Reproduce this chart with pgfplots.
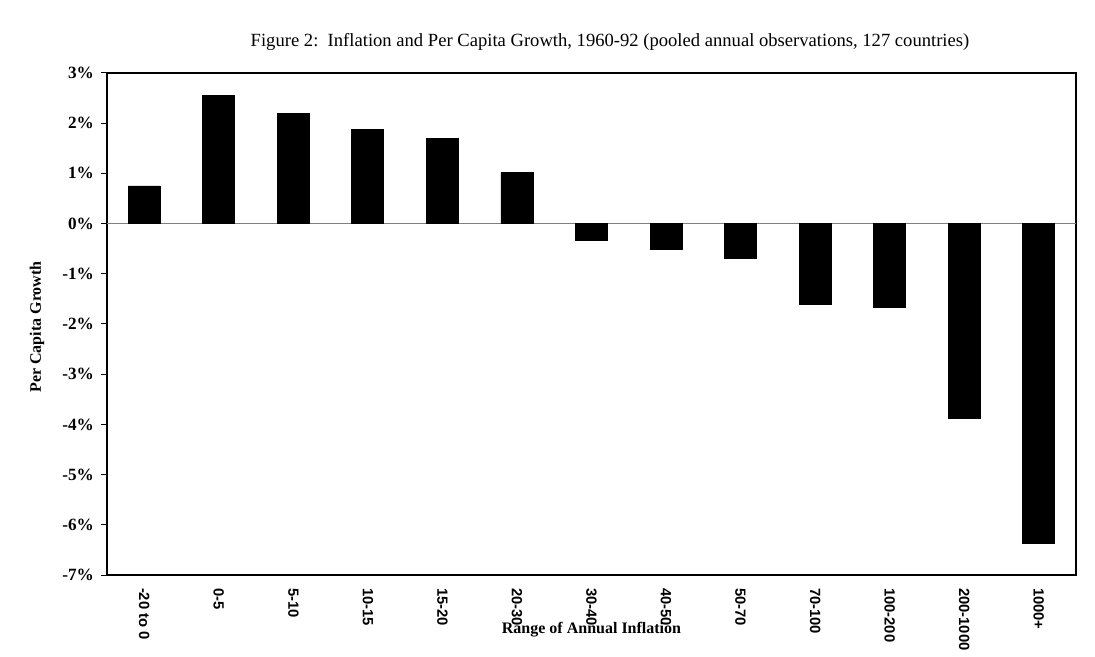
\documentclass[border=0pt]{standalone}
\usepackage{pgfplots}
\pgfplotsset{compat=1.18}
\usepackage{fontspec}
\setmainfont{Liberation Serif}
\newfontfamily\sansf{Liberation Sans}
\begin{document}
\begin{tikzpicture}
\path[use as bounding box] (-53.5pt,-41pt) rectangle (494pt,287.5pt);
\begin{axis}[
  at={(0,0)}, anchor=south west,
  scale only axis,
  width=484.5pt, height=251pt,
  xmin=-0.5, xmax=12.5,
  ymin=-7, ymax=3,
  ytick={-7,-6,-5,-4,-3,-2,-1,0,1,2,3},
  yticklabels={-7\%,-6\%,-5\%,-4\%,-3\%,-2\%,-1\%,0\%,1\%,2\%,3\%},
  xtick={0,...,12},
  xticklabels={-20 to 0,0-5,5-10,10-15,15-20,20-30,30-40,40-50,50-70,70-100,100-200,200-1000,1000+},
  x tick label style={font=\sansf\bfseries\fontsize{7.4}{8}\selectfont, rotate=-90, anchor=west},
  y tick label style={font=\bfseries\fontsize{8.6}{9}\selectfont},
  xtick style={draw=none},
  ytick style={black, line width=0.5pt},
  ytick pos=left,
  tick align=outside,
  major tick length=3pt,
  axis line style={line width=0.8pt},
  ylabel={Per Capita Growth},
  ylabel style={font=\bfseries\fontsize{8}{9}\selectfont, at={(axis description cs:-0.0722,0.494)}, anchor=center},
  xlabel={Range of Annual Inflation},
  xlabel style={font=\bfseries\fontsize{8}{9}\selectfont, at={(axis description cs:0.5,0)}, anchor=center, yshift=-27.5pt},
  ybar, bar width=16pt,
  extra y ticks={0}, extra y tick labels={},
  extra y tick style={grid=major, grid style={gray, line width=0.4pt}, major tick length=0pt},
]
\addplot[fill=black, draw=black] coordinates {
  (0,0.75) (1,2.55) (2,2.20) (3,1.87) (4,1.70) (5,1.01)
  (6,-0.34) (7,-0.51) (8,-0.70) (9,-1.60) (10,-1.66) (11,-3.88) (12,-6.38)
};
\end{axis}
\node[font=\fontsize{9.3}{11}\selectfont] at (251.5pt,266.5pt) {Figure 2:\ \ Inflation and Per Capita Growth, 1960-92 (pooled annual observations, 127 countries)};
\end{tikzpicture}
\end{document}
